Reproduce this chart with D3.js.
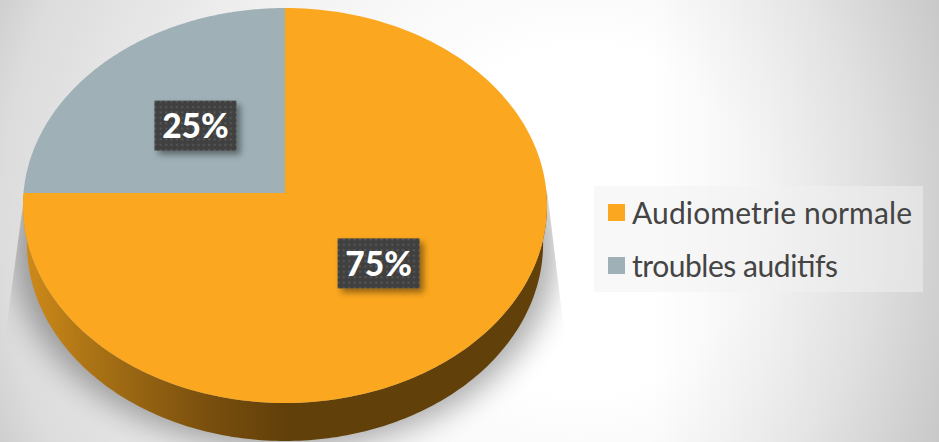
<!DOCTYPE html>
<html><head><meta charset="utf-8">
<script src="https://cdn.jsdelivr.net/npm/d3@7/dist/d3.min.js"></script>
<style>html,body{margin:0;padding:0;background:#fff;overflow:hidden}svg{display:block}</style>
</head><body><svg id="c" width="939" height="442"></svg>
<script>
const categories = ["Audiometrie normale", "troubles auditifs"];
const values = [75, 25];
const labels = ["75%", "25%"];
const colors = ["#FBA71F", "#9FB1B7"];

const W = 939, H = 442;
const svg = d3.select("#c");
const defs = svg.append("defs");

// Slide background: off-centre radial fade plus a darker right edge
const bg = defs.append("radialGradient").attr("id","bg").attr("gradientUnits","userSpaceOnUse")
  .attr("cx",500).attr("cy",220).attr("r",570).attr("fx",620).attr("fy",220);
[[0,"#ffffff"],[0.3,"#ffffff"],[0.45,"#f9f9f9"],[0.58,"#f3f3f3"],[0.9,"#dcdcdc"],[1,"#c8c8c8"]]
  .forEach(d=>bg.append("stop").attr("offset",d[0]).attr("stop-color",d[1]));
svg.append("rect").attr("width",W).attr("height",H).attr("fill","url(#bg)");
const edge = defs.append("linearGradient").attr("id","edge").attr("gradientUnits","userSpaceOnUse")
  .attr("x1",650).attr("x2",939).attr("y1",0).attr("y2",0);
edge.append("stop").attr("offset",0).attr("stop-color","#000").attr("stop-opacity",0);
edge.append("stop").attr("offset",1).attr("stop-color","#000").attr("stop-opacity",0.11);
svg.append("rect").attr("width",W).attr("height",H).attr("fill","url(#edge)");

// Tilted-disc projection: unit-disc coordinates to screen, nearer edge larger
const tilt = -25/395;
const cx = d3.scaleLinear().domain([0,1]).range([285,285+261.5]);
const cy = d3.scaleLinear().domain([0,1]).range([193,193+196.7]);
const project = (u,v,dy=0,sx=1) => {
  const k = 1/(1+tilt*v);
  return [285+(cx(u*k)-285)*sx, cy(v*k)+dy];
};
const line = d3.line();
const pie = d3.pie().sort(null).value(d=>d)(values);
const sample = (a0,a1,n=180) => d3.range(n+1).map(i=>a0+(a1-a0)*i/n);
const rim = (a0,a1,dy,sx) => sample(a0,a1).map(a=>project(Math.sin(a),-Math.cos(a),dy,sx));

// Cast shadow under the disc
const depth = 38, sideScale = 0.985;
const sh = defs.append("filter").attr("id","sh").attr("x","-20%").attr("y","-20%").attr("width","140%").attr("height","140%");
sh.append("feGaussianBlur").attr("stdDeviation",15);
const clipShadow = defs.append("clipPath").attr("id","shClip");
clipShadow.append("path").attr("d",line([[25,190],[547,190],[564,330],[576,442],[0,442],[6,330]]));
const shadowG = svg.append("g").attr("clip-path","url(#shClip)");
shadowG.append("path").attr("d",line(rim(0,2*Math.PI,depth+7,1.035))+"Z").attr("fill","#000").attr("opacity",0.32).attr("filter","url(#sh)");

// Disc edge
const sideG = defs.append("linearGradient").attr("id","side").attr("gradientUnits","userSpaceOnUse")
  .attr("x1",25).attr("x2",285).attr("y1",0).attr("y2",0);
[[0,"#CF8A1A"],[0.3,"#A56F14"],[0.7,"#7A4F0E"],[1,"#62400A"]].forEach(d=>sideG.append("stop").attr("offset",d[0]).attr("stop-color",d[1]));
svg.append("path").attr("d",line(rim(Math.PI/2,3*Math.PI/2,depth,sideScale).concat(rim(3*Math.PI/2,Math.PI/2,0,1)))+"Z").attr("fill","url(#side)");

// Slices
svg.selectAll("path.slice").data(pie).join("path").attr("class","slice")
  .attr("fill",(d,i)=>colors[i])
  .attr("d",d=>line([project(0,0)].concat(rim(d.startAngle,d.endAngle,0,1)))+"Z");

// Value labels
const tex = defs.append("pattern").attr("id","dots").attr("patternUnits","userSpaceOnUse").attr("width",5.4).attr("height",5.4);
tex.append("rect").attr("width",5.4).attr("height",5.4).attr("fill","#3F3F3F");
tex.append("rect").attr("x",2).attr("y",2).attr("width",2).attr("height",2).attr("fill","#5A5A5A");
const ds = defs.append("filter").attr("id","ds").attr("x","-30%").attr("y","-30%").attr("width","160%").attr("height","170%");
ds.append("feDropShadow").attr("dx",4).attr("dy",4).attr("stdDeviation",3).attr("flood-color","#000").attr("flood-opacity",0.42);
const labelR = 0.495;
const lab = svg.selectAll("g.lab").data(pie).join("g").attr("class","lab")
  .attr("transform",d=>{
    const m=(d.startAngle+d.endAngle)/2;
    const p=project(Math.sin(m)*labelR,-Math.cos(m)*labelR);
    return `translate(${p[0]},${p[1]})`;
  });
lab.append("rect").attr("x",-41).attr("y",-25).attr("width",82).attr("height",50).attr("fill","url(#dots)").attr("filter","url(#ds)");
lab.append("text").text((d,i)=>labels[i]).attr("text-anchor","middle").attr("dy",12.5)
  .attr("font-family","Lato, 'Open Sans', sans-serif").attr("font-weight",900).attr("font-size",33.5).attr("fill","#fff");

// Legend
svg.append("rect").attr("x",594).attr("y",186).attr("width",329).attr("height",106).attr("fill","#f2f2f2").attr("fill-opacity",0.5);
const ly = d3.scalePoint().domain(categories).range([213,266]);
const legendWidths = [280, 206];
const leg = svg.selectAll("g.leg").data(categories).join("g").attr("class","leg");
leg.append("rect").attr("x",608).attr("y",d=>ly(d)-9).attr("width",17).attr("height",17).attr("fill",(d,i)=>colors[i]);
leg.append("text").text(d=>d).attr("x",632).attr("y",d=>ly(d)+11)
  .attr("textLength",(d,i)=>legendWidths[i]).attr("lengthAdjust","spacing")
  .attr("font-family","Lato, 'Open Sans', sans-serif").attr("font-size",30).attr("fill","#444");
</script></body></html>
